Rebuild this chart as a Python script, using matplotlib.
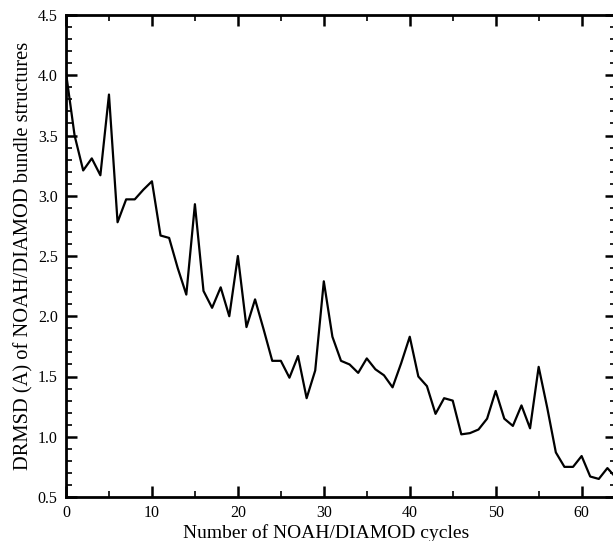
import numpy as np
import matplotlib
matplotlib.use("Agg")
import matplotlib.pyplot as plt
from matplotlib.ticker import MultipleLocator

# DRMSD per NOAH/DIAMOD cycle
cycles = list(range(0, 65))
drmsd = [4.02, 3.50, 3.21, 3.31, 3.17, 3.84, 2.78, 2.97, 2.97, 3.05,
         3.12, 2.67, 2.65, 2.40, 2.18, 2.93, 2.21, 2.07, 2.24, 2.00,
         2.50, 1.91, 2.14, 1.89, 1.63, 1.63, 1.49, 1.67, 1.32, 1.55,
         2.29, 1.83, 1.63, 1.60, 1.53, 1.65, 1.56, 1.51, 1.41, 1.61,
         1.83, 1.50, 1.42, 1.19, 1.32, 1.30, 1.02, 1.03, 1.06, 1.15,
         1.38, 1.15, 1.09, 1.26, 1.07, 1.58, 1.24, 0.87, 0.75, 0.75,
         0.84, 0.67, 0.65, 0.74, 0.66]

plt.rcParams['font.family'] = ['Liberation Serif', 'DejaVu Serif']

fig = plt.figure(figsize=(6.13, 5.41), dpi=100)
ax = fig.add_axes([66/613, 1-497/541, (616-66)/613, (497-15)/541])
ax.plot(cycles, drmsd, color='black', lw=1.6)

ax.set_xlim(0, 64)
ax.set_ylim(0.5, 4.5)
ax.xaxis.set_major_locator(MultipleLocator(10))
ax.xaxis.set_minor_locator(MultipleLocator(5))
ax.yaxis.set_major_locator(MultipleLocator(0.5))
ax.yaxis.set_minor_locator(MultipleLocator(0.1))
ax.yaxis.set_major_formatter(plt.FormatStrFormatter('%.1f'))
ax.tick_params(which='both', direction='in', top=True, right=True,
               labelsize=11.5, width=1.8, pad=6)
ax.tick_params(which='major', length=8)
ax.tick_params(which='minor', length=4, width=1.2)
for s in ax.spines.values():
    s.set_linewidth(2)

ax.set_xlabel('Number of NOAH/DIAMOD cycles', fontsize=14, labelpad=2)
ax.xaxis.label.set_x(0.473)
ax.set_ylabel('DRMSD (A) of NOAH/DIAMOD bundle structures', fontsize=14.8, labelpad=3)

fig.savefig('out.png', dpi=100)
